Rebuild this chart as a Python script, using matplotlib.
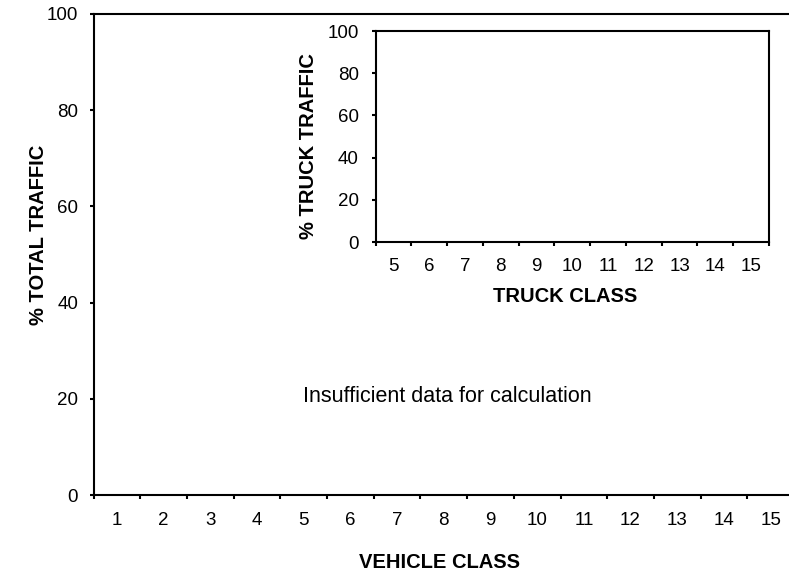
import matplotlib.pyplot as plt
import numpy as np

plt.rcParams['font.family'] = ['Liberation Sans', 'DejaVu Sans']

# categorias e limites
vehicle_classes = list(range(1, 16))
truck_classes = list(range(5, 16))
y_ticks = [0, 20, 40, 60, 80, 100]
message = 'Insufficient data for calculation'

TICK_FS = 13.5
LABEL_FS = 14.5

fig = plt.figure(figsize=(7.89, 5.72), dpi=100)

# eixo principal (estende um pouco além da borda direita)
ax = fig.add_axes([93.5 / 789, 1 - 495 / 572, (794 - 93.5) / 789, (495 - 14) / 572])
ax.set_xlim(vehicle_classes[0] - 0.5, vehicle_classes[-1] + 0.5)
ax.set_ylim(0, 100)
ax.set_xticks(vehicle_classes)
ax.set_xticks(np.arange(vehicle_classes[0] - 0.5, vehicle_classes[-1] + 1), minor=True)
ax.tick_params(axis='x', which='major', length=0, pad=12, labelsize=TICK_FS)
ax.tick_params(axis='x', which='minor', length=3, width=1.5, direction='out')
ax.set_yticks(y_ticks)
ax.tick_params(axis='y', length=3, width=1.5, direction='out', pad=8, labelsize=TICK_FS)
for side in ['left', 'bottom', 'top']:
    ax.spines[side].set_linewidth(1.5)
ax.spines['right'].set_visible(False)
ax.set_xlabel('VEHICLE CLASS', fontsize=LABEL_FS, fontweight='bold')
ax.xaxis.set_label_coords(0.4946, -0.1206)
ax.set_ylabel('% TOTAL TRAFFIC', fontsize=LABEL_FS, fontweight='bold')
ax.yaxis.set_label_coords(-0.065, 0.54)
ax.text(447 / 789, 1 - 396 / 572, message, transform=fig.transFigure,
        ha='center', va='center', fontsize=15.5)

# gráfico interno
ins = fig.add_axes([375.5 / 789, 1 - 242 / 572, (769 - 375.5) / 789, (242 - 31) / 572])
ins.set_xlim(truck_classes[0] - 0.5, truck_classes[-1] + 0.5)
ins.set_ylim(0, 100)
ins.set_xticks(truck_classes)
ins.set_xticks(np.arange(truck_classes[0] - 0.5, truck_classes[-1] + 1), minor=True)
ins.tick_params(axis='x', which='major', length=0, pad=11.5, labelsize=TICK_FS)
ins.tick_params(axis='x', which='minor', length=3, width=1.5, direction='out')
ins.set_yticks(y_ticks)
ins.tick_params(axis='y', length=3, width=1.5, direction='out', pad=9, labelsize=TICK_FS)
for side in ins.spines:
    ins.spines[side].set_linewidth(1.5)
ins.set_xlabel('TRUCK CLASS', fontsize=LABEL_FS, fontweight='bold')
ins.xaxis.set_label_coords(0.4816, -0.2133)
ins.set_ylabel('% TRUCK TRAFFIC', fontsize=LABEL_FS, fontweight='bold')
ins.yaxis.set_label_coords(-0.146, 0.455)

plt.savefig('out.png', dpi=100)
plt.close(fig)
